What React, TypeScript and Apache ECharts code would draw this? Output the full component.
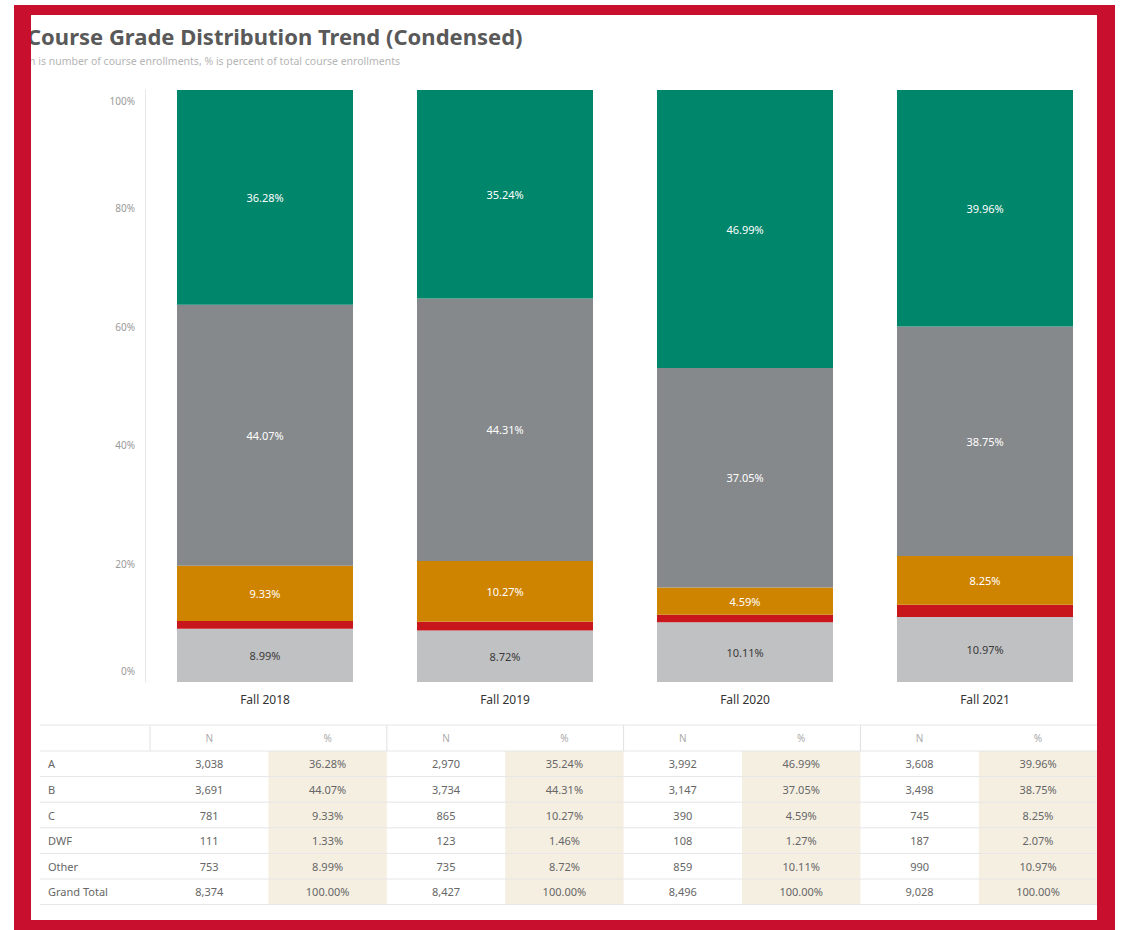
import React, { useEffect, useRef } from "react";
import * as echarts from "echarts";

const categories = ["Fall 2018", "Fall 2019", "Fall 2020", "Fall 2021"];
const gradeNames = ["A", "B", "C", "DWF", "Other"];
const pctA = [36.28, 35.24, 46.99, 39.96];
const pctB = [44.07, 44.31, 37.05, 38.75];
const pctC = [9.33, 10.27, 4.59, 8.25];
const pctDWF = [1.33, 1.46, 1.27, 2.07];
const pctOther = [8.99, 8.72, 10.11, 10.97];
const countA = [3038, 2970, 3992, 3608];
const countB = [3691, 3734, 3147, 3498];
const countC = [781, 865, 390, 745];
const countDWF = [111, 123, 108, 187];
const countOther = [753, 735, 859, 990];
const grandTotal = [8374, 8427, 8496, 9028];
const yTicks = [0, 20, 40, 60, 80, 100];

const COLORS: Record<string, string> = {
  A: "#00866b",
  B: "#86898c",
  C: "#cf8400",
  DWF: "#c8161d",
  Other: "#c0c1c3",
};
const FONT = "Noto Sans";

function fmtCount(n: number) {
  return n.toLocaleString("en-US");
}

export default function App() {
  const ref = useRef<HTMLDivElement>(null);
  useEffect(() => {
    if (!ref.current) return;
    const chart = echarts.init(ref.current, undefined, { renderer: "svg" });
    const pctSeries = [pctOther, pctDWF, pctC, pctB, pctA];
    const names = ["Other", "DWF", "C", "B", "A"];
    const series = names.map((nm, i) => ({
      name: nm,
      type: "bar",
      stack: "total",
      barWidth: 176,
      data: pctSeries[i],
      itemStyle: { color: COLORS[nm] },
      label: {
        show: nm !== "DWF",
        position: "inside",
        color: nm === "Other" ? "#3a3a3a" : "#ffffff",
        fontSize: 11,
        fontFamily: FONT,
        formatter: (p: any) => Number(p.value).toFixed(2) + "%",
      },
    }));

    // table graphic
    const x0 = 150;
    const colW = 118.4;
    const tableTop = 725;
    const headerBottom = 751;
    const rowH = 25.6;
    const rowsCounts = [countA, countB, countC, countDWF, countOther, grandTotal];
    const rowsPct = [pctA, pctB, pctC, pctDWF, pctOther, grandTotal.map(() => 100)];
    const rowLabels = [...gradeNames, "Grand Total"];
    const tableBottom = headerBottom + rowH * rowLabels.length;
    const graphics: any[] = [];
    for (let k = 0; k < categories.length; k++) {
      graphics.push({
        type: "rect",
        shape: { x: x0 + (2 * k + 1) * colW, y: headerBottom, width: colW, height: tableBottom - headerBottom },
        style: { fill: "#f5efe2" },
        silent: true,
      });
    }
    const lineYs = [tableTop, headerBottom];
    for (let r = 1; r <= rowLabels.length; r++) lineYs.push(headerBottom + r * rowH);
    lineYs.forEach((y) =>
      graphics.push({
        type: "line",
        shape: { x1: 40, y1: y, x2: x0 + 8 * colW, y2: y },
        style: { stroke: "#e6e6e6", lineWidth: 1 },
        silent: true,
      })
    );
    for (let k = 0; k < categories.length; k++) {
      const x = x0 + 2 * k * colW;
      graphics.push({
        type: "line",
        shape: { x1: x, y1: tableTop, x2: x, y2: headerBottom },
        style: { stroke: "#e0e0e0", lineWidth: 1 },
        silent: true,
      });
    }
    for (let k = 0; k < categories.length; k++) {
      ["N", "%"].forEach((h, j) => {
        graphics.push({
          type: "text",
          x: x0 + (2 * k + j + 0.5) * colW,
          y: (tableTop + headerBottom) / 2,
          style: { text: h, fill: "#aaaaaa", fontSize: 10, fontFamily: FONT, align: "center", verticalAlign: "middle" },
          silent: true,
        });
      });
    }
    rowLabels.forEach((lab, r) => {
      const cy = headerBottom + (r + 0.5) * rowH;
      graphics.push({
        type: "text",
        x: 48,
        y: cy,
        style: { text: lab, fill: "#666666", fontSize: 11, fontFamily: FONT, align: "left", verticalAlign: "middle" },
        silent: true,
      });
      for (let k = 0; k < categories.length; k++) {
        graphics.push({
          type: "text",
          x: x0 + (2 * k + 0.5) * colW,
          y: cy,
          style: { text: fmtCount(rowsCounts[r][k]), fill: "#666666", fontSize: 11, fontFamily: FONT, align: "center", verticalAlign: "middle" },
          silent: true,
        });
        graphics.push({
          type: "text",
          x: x0 + (2 * k + 1.5) * colW,
          y: cy,
          style: { text: rowsPct[r][k].toFixed(2) + "%", fill: "#666666", fontSize: 11, fontFamily: FONT, align: "center", verticalAlign: "middle" },
          silent: true,
        });
      }
    });
    graphics.push({
      type: "text",
      x: 27,
      y: 36,
      style: {
        text: "Course Grade Distribution Trend (Condensed)",
        fill: "#595959",
        fontSize: 22,
        fontWeight: "bold",
        fontFamily: FONT,
        align: "left",
        verticalAlign: "middle",
      },
      silent: true,
    });
    graphics.push({
      type: "text",
      x: 29,
      y: 61,
      style: {
        text: "n is number of course enrollments, % is percent of total course enrollments",
        fill: "#b5b5b5",
        fontSize: 10.5,
        fontFamily: FONT,
        align: "left",
        verticalAlign: "middle",
      },
      silent: true,
    });

    chart.setOption({
      animation: false,
      backgroundColor: "#ffffff",
      textStyle: { fontFamily: FONT },
      grid: { left: 145, right: 22, top: 90, bottom: 248, containLabel: false },
      xAxis: {
        type: "category",
        data: categories,
        axisLine: { show: false },
        axisTick: { show: false },
        axisLabel: { color: "#333333", fontSize: 12, margin: 11, fontFamily: FONT },
      },
      yAxis: {
        type: "value",
        min: yTicks[0],
        max: yTicks[yTicks.length - 1],
        interval: 20,
        splitLine: { show: false },
        axisTick: { show: false },
        axisLine: { show: true, lineStyle: { color: "#e8e8e8" } },
        axisLabel: {
          color: "#9a9a9a",
          fontSize: 10,
          margin: 10,
          fontFamily: FONT,
          formatter: "{value}%",
          padding: [6, 0, 6, 0],
          verticalAlignMinLabel: "bottom",
          verticalAlignMaxLabel: "top",
        },
      },
      series,
      graphic: graphics,
    });
    return () => chart.dispose();
  }, []);

  return (
    <div style={{ position: "fixed", left: 0, top: 0, width: 1127, height: 930, background: "#ffffff", overflow: "hidden" }}>
      <div ref={ref} style={{ position: "absolute", left: 0, top: 0, width: 1127, height: 930 }} />
      <div
        style={{
          position: "absolute",
          left: 14,
          top: 5,
          width: 1101,
          height: 925,
          boxSizing: "border-box",
          borderStyle: "solid",
          borderColor: "#c8102e",
          borderLeftWidth: 17,
          borderTopWidth: 10,
          borderRightWidth: 18,
          borderBottomWidth: 10,
          pointerEvents: "none",
        }}
      />
    </div>
  );
}
